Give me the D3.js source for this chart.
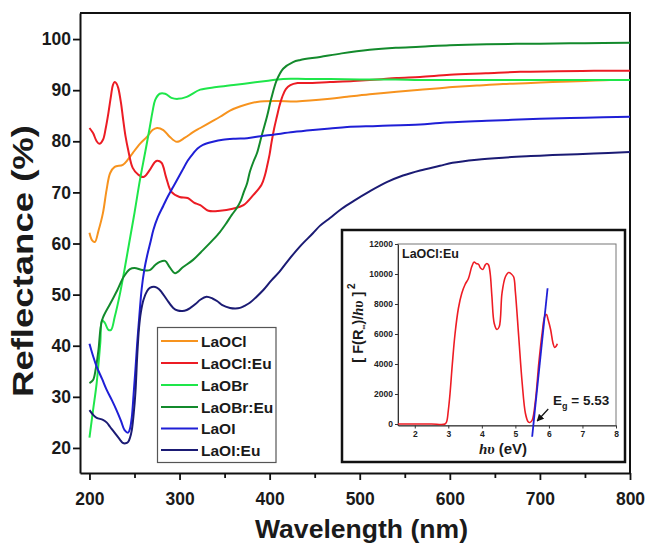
<!DOCTYPE html>
<html>
<head>
<meta charset="utf-8">
<script src="https://cdn.jsdelivr.net/npm/d3@7"></script>
<style>
  html, body { margin: 0; padding: 0; background: #fff; }
  svg { display: block; font-family: "Liberation Sans", Arial, sans-serif; }
</style>
</head>
<body>
<svg id="chart" width="645" height="544"></svg>
<script>
// ---------- data ----------
const seriesNames = ["LaOCl", "LaOCl:Eu", "LaOBr", "LaOBr:Eu", "LaOI", "LaOI:Eu"];
const seriesColors = ["#f7931e", "#ec1c24", "#1ee64a", "#138a2c", "#1f1fd6", "#1b1b74"];

const LaOCl = [[200,62.1],[203,60.6],[206,60.3],[210,62.5],[215,66],[219,70.5],[223,73.8],[228,75],[237,75.4],[243,76.5],[248,77.7],[256,79.5],[264,80.9],[270,82.2],[275,82.6],[282,82.2],[289,80.9],[297,79.9],[306,80.7],[315,81.8],[323,82.6],[335,83.8],[345,84.8],[356,86],[367,86.8],[386,87.7],[408,87.9],[430,87.8],[467,88.3],[486,88.7],[511,89.2],[541,89.7],[567,90.1],[589,90.4],[603,90.6],[630,90.9],[659,91.2],[690,91.4],[714,91.6],[750,91.8],[778,92],[800,92]];
const LaOClEu = [[200,82.6],[204,81.6],[208,80],[211,79.5],[215,80.3],[218,82.5],[221,85.5],[224,89],[226,91],[228,91.6],[230,91.3],[232,90.4],[235,87.5],[237,84.8],[240,81],[243,78.3],[248,74.8],[254,73.5],[260,73],[267,74.4],[272,75.8],[275,76.2],[280,75.8],[285,73],[291,70.1],[300,69.1],[309,68.9],[316,68],[323,67.5],[332,66.4],[345,66.4],[359,66.8],[371,67.5],[382,69.5],[391,71.5],[395,73.5],[397,75],[400,77.5],[402,79.7],[405,82.5],[408,84.8],[411,87],[414,88.7],[418,90.2],[423,91],[431,91.4],[441,91.4],[467,91.6],[493,91.8],[520,92.1],[541,92.4],[567,92.6],[600,93],[640,93.3],[678,93.6],[720,93.7],[760,93.8],[800,93.8]];
const LaOBr = [[200,22],[204,27.4],[208,32.7],[212,40.5],[214,45],[217,44.5],[221,43.1],[224,43.1],[228,45.6],[234,50.3],[239,55],[244,60],[250,66],[256,72.4],[262,78],[267,82.8],[270,85.8],[273,88.1],[278,89.3],[284,89.3],[291,88.5],[298,88.3],[308,88.7],[323,90.1],[341,90.6],[360,91],[378,91.4],[396,91.8],[415,92.2],[440,92.2],[467,92.2],[500,92.1],[540,92.1],[567,92],[620,92],[700,92],[760,92],[800,92]];
const LaOBrEu = [[200,32.7],[204,33.3],[207,35.5],[210,39.2],[214,45],[223,48.2],[231,50.9],[238,53.5],[245,55],[250,55.2],[259,54.8],[267,54.8],[273,55.8],[278,56.4],[284,56.6],[289,55.4],[295,54.2],[304,55.4],[315,56.8],[326,58.7],[337,60.7],[345,62.3],[352,64],[358,65.6],[363,66.8],[368,68.4],[371,69.9],[375,71.8],[378,74],[382,76],[386,77.7],[391,81],[397,84.8],[402,88.5],[408,92],[415,94.2],[426,95.5],[434,95.9],[456,96.5],[480,97.2],[511,97.9],[540,98.3],[567,98.5],[600,98.8],[641,99],[700,99.1],[750,99.2],[800,99.3]];
const LaOI = [[200,40.4],[204,38],[208,35.9],[214,33.5],[219,31.4],[225,29.3],[230,27.4],[235,25.3],[239,23.5],[243,23],[245,23.8],[247,26],[249,30.5],[251,35.3],[253,40.5],[255,45],[258,51.2],[261,55],[264,57.6],[268,60.5],[271,62.7],[276,65.2],[282,67.4],[287,69.2],[293,71.1],[299,73],[304,74.6],[309,76.2],[315,77.6],[320,78.6],[326,79.3],[337,79.9],[348,80.3],[362,80.5],[375,80.6],[390,81],[404,81.3],[426,81.8],[448,82.2],[467,82.5],[486,82.8],[520,83],[567,83.3],[589,83.6],[641,84],[700,84.4],[750,84.6],[800,84.8]];
const LaOIEu = [[200,27.4],[204,26.5],[208,25.9],[215,25.5],[219,25],[223,24.1],[227,23.2],[230,22.5],[234,21.6],[237,21],[240,20.9],[243,21.2],[245,22],[247,23.5],[249,26.5],[251,30.8],[253,38],[255,43.5],[257,46.5],[260,49],[264,50.7],[267,51.3],[273,51.5],[277,51.1],[280,50.5],[286,49],[293,47.4],[298,46.9],[303,46.8],[308,47],[312,47.4],[318,48.2],[323,49],[330,49.6],[337,49.2],[342,48.7],[347,48],[356,47.4],[362,47.3],[367,47.4],[372,47.8],[378,48.4],[385,49.5],[393,50.9],[402,52.8],[411,54.5],[422,57],[434,59.5],[448,62],[456,63.5],[467,65],[480,66.8],[493,68.3],[511,70.2],[530,72],[548,73.3],[567,74.3],[589,75.2],[603,75.8],[630,76.4],[659,76.8],[690,77.1],[714,77.3],[760,77.6],[800,77.9]];
const seriesData = [LaOCl, LaOClEu, LaOBr, LaOBrEu, LaOI, LaOIEu];

const xTicks = [200, 300, 400, 500, 600, 700, 800];
const xMinorTicks = [250, 350, 450, 550, 650, 750];
const yTicks = [20, 30, 40, 50, 60, 70, 80, 90, 100];

// inset data: [F(R)/hv]^2 vs hv for LaOCl:Eu
const insetCurve = [[1.5,0],[2.0,0],[2.5,0],[2.9,0],[2.95,150],[3.0,900],[3.05,2000],[3.12,4000],[3.2,6000],[3.3,7700],[3.4,8700],[3.5,9300],[3.6,9700],[3.7,10500],[3.77,10800],[3.83,10700],[3.9,10650],[3.96,10400],[4.03,10300],[4.1,10600],[4.15,10700],[4.2,10600],[4.25,10000],[4.3,8500],[4.37,6700],[4.45,6300],[4.52,6500],[4.6,8700],[4.7,9800],[4.8,10100],[4.88,10000],[4.95,9800],[5.0,8800],[5.1,5800],[5.2,2800],[5.3,700],[5.38,150],[5.43,100],[5.5,250],[5.6,1600],[5.7,4100],[5.8,6100],[5.88,7200],[5.93,7300],[5.97,7000],[6.05,6300],[6.12,5400],[6.17,5100],[6.22,5200],[6.25,5350]];
const insetFit = [[5.5,-850],[5.96,9050]];
const insetArrow = [[5.98,1000],[5.65,200]];
const insetXTicks = [2, 3, 4, 5, 6, 7, 8];
const insetYTicks = [0, 2000, 4000, 6000, 8000, 10000, 12000];
const bandGap = "5.53";

// ---------- drawing ----------
const svg = d3.select("#chart");
const FONT = '"Liberation Sans", Arial, sans-serif';

const x = d3.scaleLinear().domain([189.5, 800]).range([80, 630]);
const y = d3.scaleLinear().domain([15.1, 105.1]).range([473, 13]);

// frame (top/right)
svg.append("path")
  .attr("d", `M80,13H630V473`)
  .attr("fill", "none").attr("stroke", "#111").attr("stroke-width", 2);

// x axis
const gx = svg.append("g").attr("transform", "translate(0,473)")
  .call(d3.axisBottom(x).tickValues(xTicks).tickSizeInner(7).tickSizeOuter(0).tickPadding(13).tickFormat(d3.format("d")));
svg.append("g").attr("transform", "translate(0,473)")
  .call(d3.axisBottom(x).tickValues(xMinorTicks).tickSizeInner(5).tickSizeOuter(0).tickFormat(""))
  .select(".domain").remove();

// y axis
const gy = svg.append("g").attr("transform", "translate(80,0)")
  .call(d3.axisLeft(y).tickValues(yTicks).tickSizeInner(7).tickSizeOuter(0).tickPadding(2).tickFormat(d3.format("d")));

svg.selectAll(".domain").attr("stroke", "#111").attr("stroke-width", 2);
svg.selectAll(".tick line").attr("stroke", "#111").attr("stroke-width", 1.8);
svg.selectAll(".tick text").attr("font-family", FONT).attr("font-size", 17.5).attr("font-weight", "bold").attr("fill", "#1a1a1a");

// axis titles
svg.append("text")
  .attr("x", 255).attr("y", 538)
  .attr("font-family", FONT).attr("font-size", 25).attr("font-weight", "bold").attr("fill", "#1a1a1a")
  .attr("textLength", 213).attr("lengthAdjust", "spacingAndGlyphs")
  .text("Wavelength (nm)");
svg.append("text")
  .attr("transform", "translate(33,397) rotate(-90)")
  .attr("font-family", FONT).attr("font-size", 29).attr("font-weight", "bold").attr("fill", "#1a1a1a")
  .attr("textLength", 272).attr("lengthAdjust", "spacingAndGlyphs")
  .text("Reflectance (%)");

// curves
const line = d3.line().x(d => x(d[0])).y(d => y(d[1])).curve(d3.curveCatmullRom.alpha(0.5));
const curves = svg.append("g");
seriesData.forEach((s, i) => {
  curves.append("path").datum(s)
    .attr("d", line)
    .attr("fill", "none")
    .attr("stroke", seriesColors[i])
    .attr("stroke-width", 2)
    .attr("stroke-linejoin", "round");
});

// legend
const lg = svg.append("g");
lg.append("rect").attr("x", 157.5).attr("y", 327.5).attr("width", 118.5).attr("height", 135)
  .attr("fill", "#fff").attr("stroke", "#555").attr("stroke-width", 1.2);
const rowY = [341, 363, 385, 407, 428.5, 450];
seriesNames.forEach((n, i) => {
  lg.append("line").attr("x1", 161).attr("x2", 198).attr("y1", rowY[i]).attr("y2", rowY[i])
    .attr("stroke", seriesColors[i]).attr("stroke-width", 2);
  lg.append("text").attr("x", 201).attr("y", rowY[i] + 5.5)
    .attr("font-family", FONT).attr("font-size", 15.5).attr("font-weight", "bold").attr("fill", "#1a1a1a")
    .text(n);
});

// ---------- inset ----------
const inset = svg.append("g");
inset.append("rect").attr("x", 342).attr("y", 230).attr("width", 283).attr("height", 232)
  .attr("fill", "#fff").attr("stroke", "#111").attr("stroke-width", 2.5);

const ix = d3.scaleLinear().domain([1.5, 8]).range([398, 616]);
const iy = d3.scaleLinear().domain([-100, 12000]).range([425.5, 244]);

inset.append("rect").attr("x", 398).attr("y", 244).attr("width", 218).attr("height", 181.5)
  .attr("fill", "none").attr("stroke", "#777").attr("stroke-width", 1);

const igx = inset.append("g").attr("transform", "translate(0,425.5)")
  .call(d3.axisBottom(ix).tickValues(insetXTicks).tickSizeInner(3).tickSizeOuter(0).tickPadding(2).tickFormat(d3.format("d")));
const igy = inset.append("g").attr("transform", "translate(398,0)")
  .call(d3.axisLeft(iy).tickValues(insetYTicks).tickSizeInner(3).tickSizeOuter(0).tickPadding(2).tickFormat(d3.format("d")));
[igx, igy].forEach(g => {
  g.select(".domain").attr("stroke", "#333").attr("stroke-width", 1);
  g.selectAll(".tick line").attr("stroke", "#333");
  g.selectAll(".tick text").attr("font-family", FONT).attr("font-size", 8.5).attr("font-weight", "bold").attr("fill", "#222");
});

const iline = d3.line().x(d => ix(d[0])).y(d => iy(d[1])).curve(d3.curveCatmullRom.alpha(0.5));
inset.append("path").datum(insetCurve).attr("d", iline)
  .attr("fill", "none").attr("stroke", "#ee1c24").attr("stroke-width", 1.6);
inset.append("path").datum(insetFit).attr("d", d3.line().x(d => ix(d[0])).y(d => iy(d[1])))
  .attr("fill", "none").attr("stroke", "#1f1fd6").attr("stroke-width", 1.8);

// arrow
svg.append("defs").append("marker")
  .attr("id", "ah").attr("viewBox", "0 0 10 10").attr("refX", 9).attr("refY", 5)
  .attr("markerWidth", 6).attr("markerHeight", 6).attr("orient", "auto")
  .append("path").attr("d", "M0,0L10,5L0,10Z").attr("fill", "#111");
inset.append("line")
  .attr("x1", ix(insetArrow[0][0])).attr("y1", iy(insetArrow[0][1]))
  .attr("x2", ix(insetArrow[1][0])).attr("y2", iy(insetArrow[1][1]))
  .attr("stroke", "#111").attr("stroke-width", 1.2).attr("marker-end", "url(#ah)");

// inset texts
inset.append("text").attr("x", 402).attr("y", 258)
  .attr("font-family", FONT).attr("font-size", 12.5).attr("font-weight", "bold").attr("fill", "#1a1a1a")
  .text("LaOCl:Eu");

const eg = inset.append("text").attr("x", 553).attr("y", 405)
  .attr("font-family", FONT).attr("font-size", 13.5).attr("font-weight", "bold").attr("fill", "#1a1a1a");
eg.append("tspan").text("E");
eg.append("tspan").attr("font-size", 9).attr("dy", 4).text("g");
eg.append("tspan").attr("dy", -4).text(" = " + bandGap);

const xl = inset.append("text").attr("x", 503).attr("y", 454).attr("text-anchor", "middle")
  .attr("font-family", FONT).attr("font-size", 15).attr("font-weight", "bold").attr("fill", "#1a1a1a");
xl.append("tspan").attr("font-family", "'Liberation Serif', 'Times New Roman', serif").attr("font-style", "italic").text("hυ");
xl.append("tspan").text(" (eV)");

const yl = inset.append("text").attr("transform", "translate(363,323) rotate(-90)").attr("text-anchor", "middle")
  .attr("font-family", FONT).attr("font-size", 14.5).attr("font-weight", "bold").attr("fill", "#1a1a1a");
yl.append("tspan").text("[ F(R");
yl.append("tspan").attr("font-size", 7).attr("dy", 3).text("∞");
yl.append("tspan").attr("dy", -3).text(")/");
yl.append("tspan").attr("font-family", "'Liberation Serif', 'Times New Roman', serif").attr("font-style", "italic").text("hυ");
yl.append("tspan").text(" ]");
yl.append("tspan").attr("font-size", 10).attr("dy", -8).text(" 2");
</script>
</body>
</html>
